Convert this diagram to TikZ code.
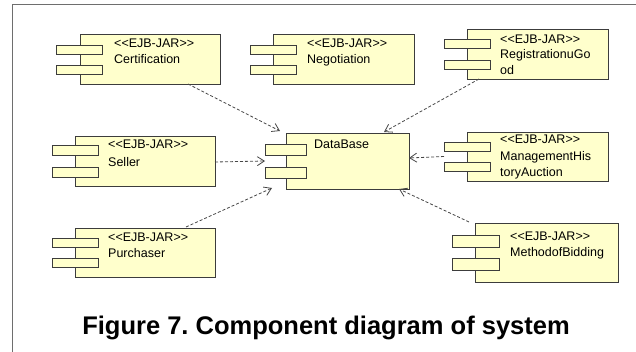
\documentclass[tikz,border=0pt]{standalone}
\usepackage{fontspec}
\setmainfont{Liberation Sans}
\usetikzlibrary{arrows.meta,calc}
\frenchspacing

\definecolor{compfill}{RGB}{255,255,204}
\definecolor{compline}{RGB}{60,60,60}
\definecolor{framegray}{RGB}{110,110,110}
\definecolor{depline}{RGB}{70,70,70}

\tikzset{
  body/.style={draw=compline, fill=compfill, line width=0.9pt, inner sep=0pt, outer sep=0pt, anchor=north west},
  tab/.style={draw=compline, fill=compfill, line width=0.9pt, inner sep=0pt, outer sep=0pt, anchor=north west},
  lbl/.style={font=\fontsize{12.5}{14}\selectfont, inner sep=0pt, anchor=base west, text=black},
  dep/.style={draw=depline, line width=0.8pt, dash pattern=on 3pt off 2pt,
    -{Straight Barb[length=7pt,width=9pt,line width=0.8pt]}},
}

% stereotype text; the kerns keep << and >> from turning into guillemets
\newcommand{\ejbjar}{<\kern0pt<EJB-JAR>\kern0pt>}

\begin{document}
\begin{tikzpicture}[x=1pt,y=-1pt]
  \useasboundingbox (0,0) rectangle (636,352);

  % frame
  \draw[framegray, line width=1.6pt] (12.5,352) -- (12.5,4.5) -- (636,4.5);

  % Certification
  \node[body, minimum width=140, minimum height=50] (cert) at (80,34) {};
  \node[tab, minimum width=46, minimum height=9] (certA) at (56,45) {};
  \node[tab, minimum width=46, minimum height=9] (certB) at (56,65) {};
  \node[lbl] (certS) at (114,47.5) {\ejbjar};
  \node[lbl] (certN) at (114,63.5) {Certification};

  % Negotiation
  \node[body, minimum width=141, minimum height=50] (nego) at (273,34) {};
  \node[tab, minimum width=46, minimum height=9] (negoA) at (250,45) {};
  \node[tab, minimum width=46, minimum height=9] (negoB) at (250,65) {};
  \node[lbl] (negoS) at (307,47.5) {\ejbjar};
  \node[lbl] (negoN) at (307,63.5) {Negotiation};

  % RegistrationuGood
  \node[body, minimum width=141, minimum height=50] (reg) at (467,29) {};
  \node[tab, minimum width=46, minimum height=9] (regA) at (444,39) {};
  \node[tab, minimum width=46, minimum height=9] (regB) at (444,60) {};
  \node[lbl] (regS) at (500,43.5) {\ejbjar};
  \node[lbl] (regN) at (500,59) {RegistrationuGo};
  \node[lbl] (regM) at (500,74.5) {od};

  % Seller
  \node[body, minimum width=140, minimum height=50] (sell) at (75,136) {};
  \node[tab, minimum width=46, minimum height=10] (sellA) at (52,145) {};
  \node[tab, minimum width=46, minimum height=10] (sellB) at (52,167) {};
  \node[lbl] (sellS) at (108,148.5) {\ejbjar};
  \node[lbl] (sellN) at (108,166.5) {Seller};

  % DataBase
  \node[body, minimum width=123, minimum height=56] (db) at (286,133) {};
  \node[tab, minimum width=41, minimum height=11] (dbA) at (265,144) {};
  \node[tab, minimum width=41, minimum height=11] (dbB) at (265,167) {};
  \node[lbl] (dbN) at (314,148.5) {DataBase};

  % ManagementHistoryAuction
  \node[body, minimum width=141, minimum height=49] (mgmt) at (467,132) {};
  \node[tab, minimum width=46, minimum height=9] (mgmtA) at (444,142) {};
  \node[tab, minimum width=46, minimum height=9] (mgmtB) at (444,162) {};
  \node[lbl] (mgmtS) at (500,143.5) {\ejbjar};
  \node[lbl] (mgmtN) at (500,160.5) {ManagementHis};
  \node[lbl] (mgmtM) at (500,176.5) {toryAuction};

  % MethodofBidding
  \node[body, minimum width=143, minimum height=59] (meth) at (475,223) {};
  \node[tab, minimum width=47, minimum height=12] (methA) at (452,235) {};
  \node[tab, minimum width=47, minimum height=12] (methB) at (452,258) {};
  \node[lbl] (methS) at (510,240.5) {\ejbjar};
  \node[lbl] (methN) at (510,256.5) {MethodofBidding};

  % Purchaser
  \node[body, minimum width=140, minimum height=49] (purch) at (75,228) {};
  \node[tab, minimum width=46, minimum height=9] (purchA) at (52,238) {};
  \node[tab, minimum width=46, minimum height=9] (purchB) at (52,258) {};
  \node[lbl] (purchS) at (108,241.5) {\ejbjar};
  \node[lbl] (purchN) at (108,257.5) {Purchaser};

  % dependencies on DataBase
  \draw[dep] ([xshift=108pt]cert.south west) -- ([xshift=-6pt,yshift=2pt]db.north west);
  \draw[dep] ([xshift=12pt]reg.south west) -- ([xshift=98pt,yshift=1pt]db.north west);
  \draw[dep] ([yshift=-1pt]sell.east) -- ($(dbA.west)!0.5!(dbB.west)$);
  \draw[dep] ($(mgmtA.west)!0.5!(mgmtB.west)$) -- ([yshift=3pt]db.east);
  \draw[dep] ([xshift=111pt,yshift=1pt]purch.north west) -- ([xshift=-14pt,yshift=1pt]db.south west);
  \draw[dep] ([xshift=-6pt,yshift=1pt]meth.north west) -- ([xshift=-10pt]db.south east);

  % caption
  \node[font=\bfseries\fontsize{25.5}{30}\selectfont, inner sep=0pt, anchor=base] (cap)
    at (326,334) {Figure 7. Component diagram of system};
\end{tikzpicture}
\end{document}
